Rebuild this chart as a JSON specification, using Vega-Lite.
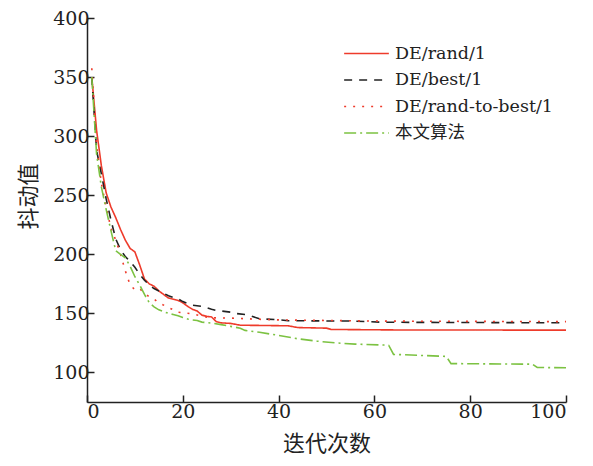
{
  "$schema": "https://vega.github.io/schema/vega-lite/v6.json",
  "width": 479,
  "height": 384,
  "autosize": {"type": "none"},
  "padding": {"left": 87, "top": 18, "right": 27, "bottom": 64},
  "background": "white",
  "config": {
    "view": {"stroke": null},
    "font": "DejaVu Serif, Noto Sans CJK SC",
    "axis": {"grid": false, "domainColor": "#222", "domainWidth": 1.5, "tickColor": "#222", "tickWidth": 1.5, "tickSize": -7, "labelFont": "DejaVu Serif", "labelFontSize": 19, "labelColor": "#222", "titleFont": "Noto Sans CJK SC", "titleFontSize": 22, "titleFontWeight": "normal", "titleColor": "#222"}
  },
  "data": {"values": [
    {"it":1,"v":350,"s":"DE/rand/1"},{"it":2,"v":305,"s":"DE/rand/1"},{"it":3,"v":275,"s":"DE/rand/1"},{"it":4,"v":252,"s":"DE/rand/1"},{"it":5,"v":240,"s":"DE/rand/1"},{"it":6,"v":231,"s":"DE/rand/1"},{"it":7,"v":221,"s":"DE/rand/1"},{"it":8,"v":212,"s":"DE/rand/1"},{"it":9,"v":205,"s":"DE/rand/1"},{"it":10,"v":202,"s":"DE/rand/1"},{"it":11,"v":191,"s":"DE/rand/1"},{"it":12,"v":179,"s":"DE/rand/1"},{"it":13,"v":175,"s":"DE/rand/1"},{"it":14,"v":173,"s":"DE/rand/1"},{"it":15,"v":169,"s":"DE/rand/1"},{"it":16,"v":166,"s":"DE/rand/1"},{"it":17,"v":163,"s":"DE/rand/1"},{"it":18,"v":162,"s":"DE/rand/1"},{"it":19,"v":161,"s":"DE/rand/1"},{"it":20,"v":159,"s":"DE/rand/1"},{"it":21,"v":156,"s":"DE/rand/1"},{"it":22,"v":153.5,"s":"DE/rand/1"},{"it":23,"v":152,"s":"DE/rand/1"},{"it":24,"v":148.5,"s":"DE/rand/1"},{"it":25,"v":147.5,"s":"DE/rand/1"},{"it":26,"v":147,"s":"DE/rand/1"},{"it":27,"v":143,"s":"DE/rand/1"},{"it":28,"v":142,"s":"DE/rand/1"},{"it":30,"v":141.5,"s":"DE/rand/1"},{"it":32,"v":140,"s":"DE/rand/1"},{"it":42,"v":139.5,"s":"DE/rand/1"},{"it":44,"v":138,"s":"DE/rand/1"},{"it":50,"v":137.5,"s":"DE/rand/1"},{"it":51,"v":136.4,"s":"DE/rand/1"},{"it":64,"v":136,"s":"DE/rand/1"},{"it":100,"v":135.8,"s":"DE/rand/1"},
    {"it":1,"v":350,"s":"DE/best/1"},{"it":2,"v":288,"s":"DE/best/1"},{"it":3,"v":268,"s":"DE/best/1"},{"it":4,"v":247,"s":"DE/best/1"},{"it":5,"v":229,"s":"DE/best/1"},{"it":6,"v":213,"s":"DE/best/1"},{"it":7,"v":204,"s":"DE/best/1"},{"it":8,"v":198,"s":"DE/best/1"},{"it":9,"v":194,"s":"DE/best/1"},{"it":10,"v":189,"s":"DE/best/1"},{"it":11,"v":183,"s":"DE/best/1"},{"it":12,"v":178,"s":"DE/best/1"},{"it":13,"v":174,"s":"DE/best/1"},{"it":14,"v":171,"s":"DE/best/1"},{"it":15,"v":169,"s":"DE/best/1"},{"it":16,"v":167,"s":"DE/best/1"},{"it":17,"v":165,"s":"DE/best/1"},{"it":18,"v":163.5,"s":"DE/best/1"},{"it":19,"v":162.4,"s":"DE/best/1"},{"it":20,"v":160,"s":"DE/best/1"},{"it":21,"v":158.5,"s":"DE/best/1"},{"it":22,"v":157,"s":"DE/best/1"},{"it":24,"v":156,"s":"DE/best/1"},{"it":26,"v":153.5,"s":"DE/best/1"},{"it":27,"v":152.5,"s":"DE/best/1"},{"it":30,"v":151,"s":"DE/best/1"},{"it":31,"v":150,"s":"DE/best/1"},{"it":33,"v":149,"s":"DE/best/1"},{"it":34,"v":148,"s":"DE/best/1"},{"it":36,"v":145.5,"s":"DE/best/1"},{"it":40,"v":144.6,"s":"DE/best/1"},{"it":42,"v":143.8,"s":"DE/best/1"},{"it":55,"v":143.5,"s":"DE/best/1"},{"it":62,"v":142.5,"s":"DE/best/1"},{"it":100,"v":142,"s":"DE/best/1"},
    {"it":1,"v":357.5,"s":"DE/rand-to-best/1"},{"it":2,"v":292,"s":"DE/rand-to-best/1"},{"it":3,"v":260,"s":"DE/rand-to-best/1"},{"it":4,"v":240,"s":"DE/rand-to-best/1"},{"it":5,"v":222,"s":"DE/rand-to-best/1"},{"it":6,"v":212,"s":"DE/rand-to-best/1"},{"it":7,"v":200,"s":"DE/rand-to-best/1"},{"it":8,"v":186,"s":"DE/rand-to-best/1"},{"it":9,"v":174,"s":"DE/rand-to-best/1"},{"it":10,"v":170,"s":"DE/rand-to-best/1"},{"it":11,"v":171,"s":"DE/rand-to-best/1"},{"it":12,"v":167,"s":"DE/rand-to-best/1"},{"it":13,"v":164,"s":"DE/rand-to-best/1"},{"it":14,"v":162,"s":"DE/rand-to-best/1"},{"it":15,"v":159,"s":"DE/rand-to-best/1"},{"it":16,"v":157,"s":"DE/rand-to-best/1"},{"it":17,"v":155,"s":"DE/rand-to-best/1"},{"it":18,"v":153,"s":"DE/rand-to-best/1"},{"it":19,"v":151,"s":"DE/rand-to-best/1"},{"it":20,"v":150.5,"s":"DE/rand-to-best/1"},{"it":22,"v":149.7,"s":"DE/rand-to-best/1"},{"it":24,"v":147.5,"s":"DE/rand-to-best/1"},{"it":26,"v":146.3,"s":"DE/rand-to-best/1"},{"it":30,"v":146,"s":"DE/rand-to-best/1"},{"it":33,"v":145.5,"s":"DE/rand-to-best/1"},{"it":36,"v":145,"s":"DE/rand-to-best/1"},{"it":40,"v":144.5,"s":"DE/rand-to-best/1"},{"it":50,"v":144,"s":"DE/rand-to-best/1"},{"it":60,"v":143.5,"s":"DE/rand-to-best/1"},{"it":100,"v":143,"s":"DE/rand-to-best/1"},
    {"it":1,"v":350,"s":"本文算法"},{"it":2,"v":285,"s":"本文算法"},{"it":3,"v":257,"s":"本文算法"},{"it":4,"v":238,"s":"本文算法"},{"it":5,"v":220,"s":"本文算法"},{"it":6,"v":203,"s":"本文算法"},{"it":7,"v":200,"s":"本文算法"},{"it":8,"v":197,"s":"本文算法"},{"it":9,"v":190,"s":"本文算法"},{"it":10,"v":181,"s":"本文算法"},{"it":11,"v":174,"s":"本文算法"},{"it":12,"v":166,"s":"本文算法"},{"it":13,"v":159,"s":"本文算法"},{"it":14,"v":155.5,"s":"本文算法"},{"it":15,"v":153,"s":"本文算法"},{"it":16,"v":151.5,"s":"本文算法"},{"it":17,"v":150,"s":"本文算法"},{"it":18,"v":149,"s":"本文算法"},{"it":19,"v":148,"s":"本文算法"},{"it":20,"v":146.5,"s":"本文算法"},{"it":21,"v":145.3,"s":"本文算法"},{"it":22,"v":144.5,"s":"本文算法"},{"it":23,"v":144,"s":"本文算法"},{"it":24,"v":142.6,"s":"本文算法"},{"it":26,"v":141.8,"s":"本文算法"},{"it":28,"v":140.5,"s":"本文算法"},{"it":30,"v":139,"s":"本文算法"},{"it":32,"v":137.5,"s":"本文算法"},{"it":33,"v":135.6,"s":"本文算法"},{"it":36,"v":134,"s":"本文算法"},{"it":40,"v":131.4,"s":"本文算法"},{"it":44,"v":128.5,"s":"本文算法"},{"it":48,"v":126.5,"s":"本文算法"},{"it":52,"v":125,"s":"本文算法"},{"it":56,"v":124,"s":"本文算法"},{"it":62,"v":123.2,"s":"本文算法"},{"it":63,"v":122.9,"s":"本文算法"},{"it":64,"v":115.3,"s":"本文算法"},{"it":75,"v":113.6,"s":"本文算法"},{"it":76,"v":107.5,"s":"本文算法"},{"it":93,"v":107,"s":"本文算法"},{"it":94,"v":104.2,"s":"本文算法"},{"it":100,"v":104,"s":"本文算法"}
  ]},
  "mark": {"type": "line", "strokeWidth": 1.6, "clip": true},
  "encoding": {
    "x": {"field": "it", "type": "quantitative", "title": "迭代次数", "scale": {"domain": [0, 100], "nice": false},
      "axis": {"values": [0, 20, 40, 60, 80, 100], "labelPadding": 7, "titlePadding": 12}},
    "y": {"field": "v", "type": "quantitative", "title": "抖动值", "scale": {"domain": [75, 400], "nice": false, "zero": false},
      "axis": {"values": [100, 150, 200, 250, 300, 350, 400], "labelPadding": 5, "titlePadding": 12, "titleY": 178}},
    "color": {"field": "s", "type": "nominal", "title": null,
      "scale": {"domain": ["DE/rand/1", "DE/best/1", "DE/rand-to-best/1", "本文算法"], "range": ["#ee3b2b", "#222222", "#ee3b2b", "#7cc242"]},
      "legend": {"orient": "none", "legendX": 256, "legendY": 23, "symbolType": "stroke", "symbolSize": 2000, "symbolStrokeWidth": 1.6, "labelFontSize": 17.5, "labelFont": "DejaVu Serif, Noto Sans CJK SC", "labelColor": "#222", "labelLimit": 300, "clipHeight": 25, "rowPadding": 1.5, "labelOffset": 5}},
    "strokeDash": {"field": "s", "type": "nominal", "legend": null,
      "scale": {"domain": ["DE/rand/1", "DE/best/1", "DE/rand-to-best/1", "本文算法"], "range": [[1, 0], [8, 7], [2, 7], [12, 4, 2, 4]]}}
  }
}
